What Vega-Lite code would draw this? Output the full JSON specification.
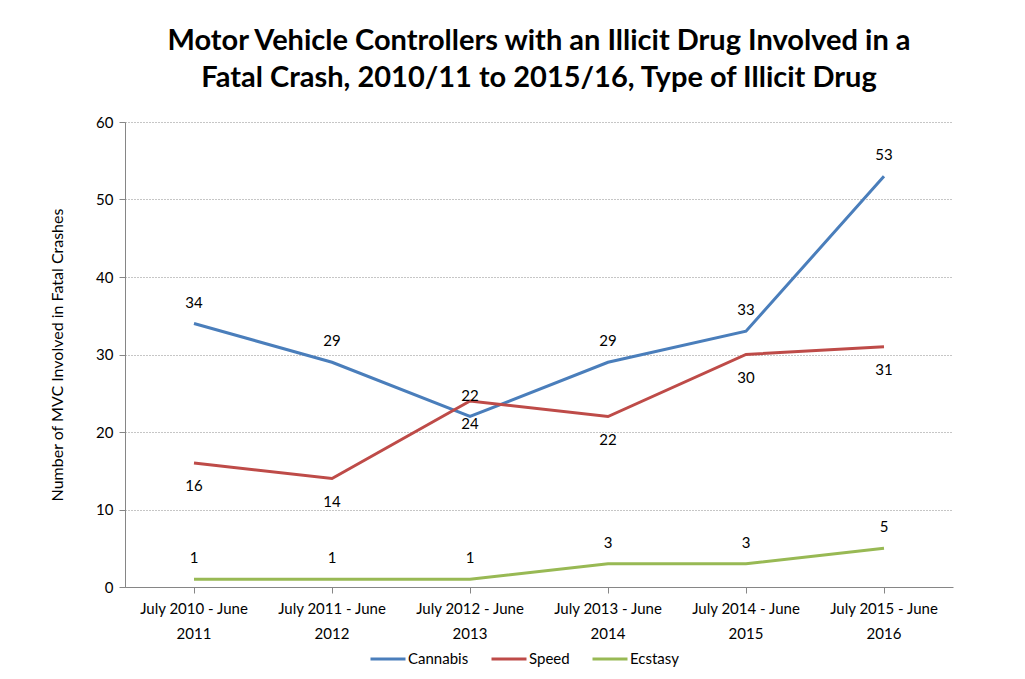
{
  "$schema": "https://vega.github.io/schema/vega-lite/v6.json",
  "autosize": {"type": "none"},
  "width": 828,
  "height": 465,
  "padding": {"left": 125, "top": 122, "right": 72, "bottom": 92},
  "background": "white",
  "title": {
    "text": ["Motor Vehicle Controllers with an Illicit Drug Involved in a", "Fatal Crash, 2010/11 to 2015/16, Type of Illicit Drug"],
    "font": "Lato",
    "fontSize": 29,
    "fontWeight": "bold",
    "color": "black",
    "lineHeight": 37,
    "offset": 22,
    "anchor": "middle"
  },
  "data": {
    "values": [
      {"period": "July 2010 - June 2011", "drug": "Cannabis", "value": 34},
      {"period": "July 2011 - June 2012", "drug": "Cannabis", "value": 29},
      {"period": "July 2012 - June 2013", "drug": "Cannabis", "value": 22},
      {"period": "July 2013 - June 2014", "drug": "Cannabis", "value": 29},
      {"period": "July 2014 - June 2015", "drug": "Cannabis", "value": 33},
      {"period": "July 2015 - June 2016", "drug": "Cannabis", "value": 53},
      {"period": "July 2010 - June 2011", "drug": "Speed", "value": 16},
      {"period": "July 2011 - June 2012", "drug": "Speed", "value": 14},
      {"period": "July 2012 - June 2013", "drug": "Speed", "value": 24},
      {"period": "July 2013 - June 2014", "drug": "Speed", "value": 22},
      {"period": "July 2014 - June 2015", "drug": "Speed", "value": 30},
      {"period": "July 2015 - June 2016", "drug": "Speed", "value": 31},
      {"period": "July 2010 - June 2011", "drug": "Ecstasy", "value": 1},
      {"period": "July 2011 - June 2012", "drug": "Ecstasy", "value": 1},
      {"period": "July 2012 - June 2013", "drug": "Ecstasy", "value": 1},
      {"period": "July 2013 - June 2014", "drug": "Ecstasy", "value": 3},
      {"period": "July 2014 - June 2015", "drug": "Ecstasy", "value": 3},
      {"period": "July 2015 - June 2016", "drug": "Ecstasy", "value": 5}
    ]
  },
  "layer": [
    {
      "mark": {"type": "line", "strokeWidth": 3},
      "encoding": {
        "x": {
          "field": "period",
          "type": "nominal",
          "sort": null,
          "scale": {"type": "band", "paddingInner": 0, "paddingOuter": 0},
          "axis": {
            "title": null,
            "labelAngle": 0,
            "labelExpr": "[slice(datum.label, 0, 16), slice(datum.label, 17)]",
            "labelLineHeight": 25,
            "labelFont": "Lato",
            "labelFontSize": 15,
            "labelColor": "black",
            "labelPadding": 8,
            "domainColor": "#868686",
            "tickColor": "#868686",
            "tickSize": 6,
            "grid": false
          }
        },
        "y": {
          "field": "value",
          "type": "quantitative",
          "scale": {"domain": [0, 60]},
          "axis": {
            "title": "Number of MVC Involved in Fatal Crashes",
            "titleFont": "Lato",
            "titleFontSize": 16,
            "titleFontWeight": "normal",
            "titleColor": "black",
            "titlePadding": 30,
            "values": [0, 10, 20, 30, 40, 50, 60],
            "labelFont": "Lato",
            "labelFontSize": 15,
            "labelColor": "black",
            "labelPadding": 6,
            "domainColor": "#868686",
            "tickColor": "#868686",
            "tickSize": 6,
            "gridColor": "#8c8c8c",
            "gridDash": [1, 2],
            "gridWidth": 1
          }
        },
        "color": {
          "field": "drug",
          "type": "nominal",
          "scale": {"domain": ["Cannabis", "Speed", "Ecstasy"], "range": ["#4A7EBB", "#BE4B48", "#98B954"]},
          "legend": {
            "title": null,
            "orient": "none",
            "legendX": 244,
            "legendY": 518,
            "direction": "horizontal",
            "symbolType": "stroke",
            "symbolStrokeWidth": 3,
            "symbolSize": 1225,
            "labelFont": "Lato",
            "labelFontSize": 15,
            "labelColor": "black",
            "labelOffset": 1,
            "columnPadding": 16
          }
        }
      }
    },
    {
      "transform": [{"filter": "datum.drug !== 'Speed'"}],
      "mark": {"type": "text", "dy": -21, "font": "Lato", "fontSize": 15, "color": "black"},
      "encoding": {
        "x": {"field": "period", "type": "nominal", "sort": null},
        "y": {"field": "value", "type": "quantitative"},
        "text": {"field": "value"}
      }
    },
    {
      "transform": [{"filter": "datum.drug === 'Speed'"}],
      "mark": {"type": "text", "dy": 23, "font": "Lato", "fontSize": 15, "color": "black"},
      "encoding": {
        "x": {"field": "period", "type": "nominal", "sort": null},
        "y": {"field": "value", "type": "quantitative"},
        "text": {"field": "value"}
      }
    }
  ],
  "config": {"view": {"stroke": null}}
}
